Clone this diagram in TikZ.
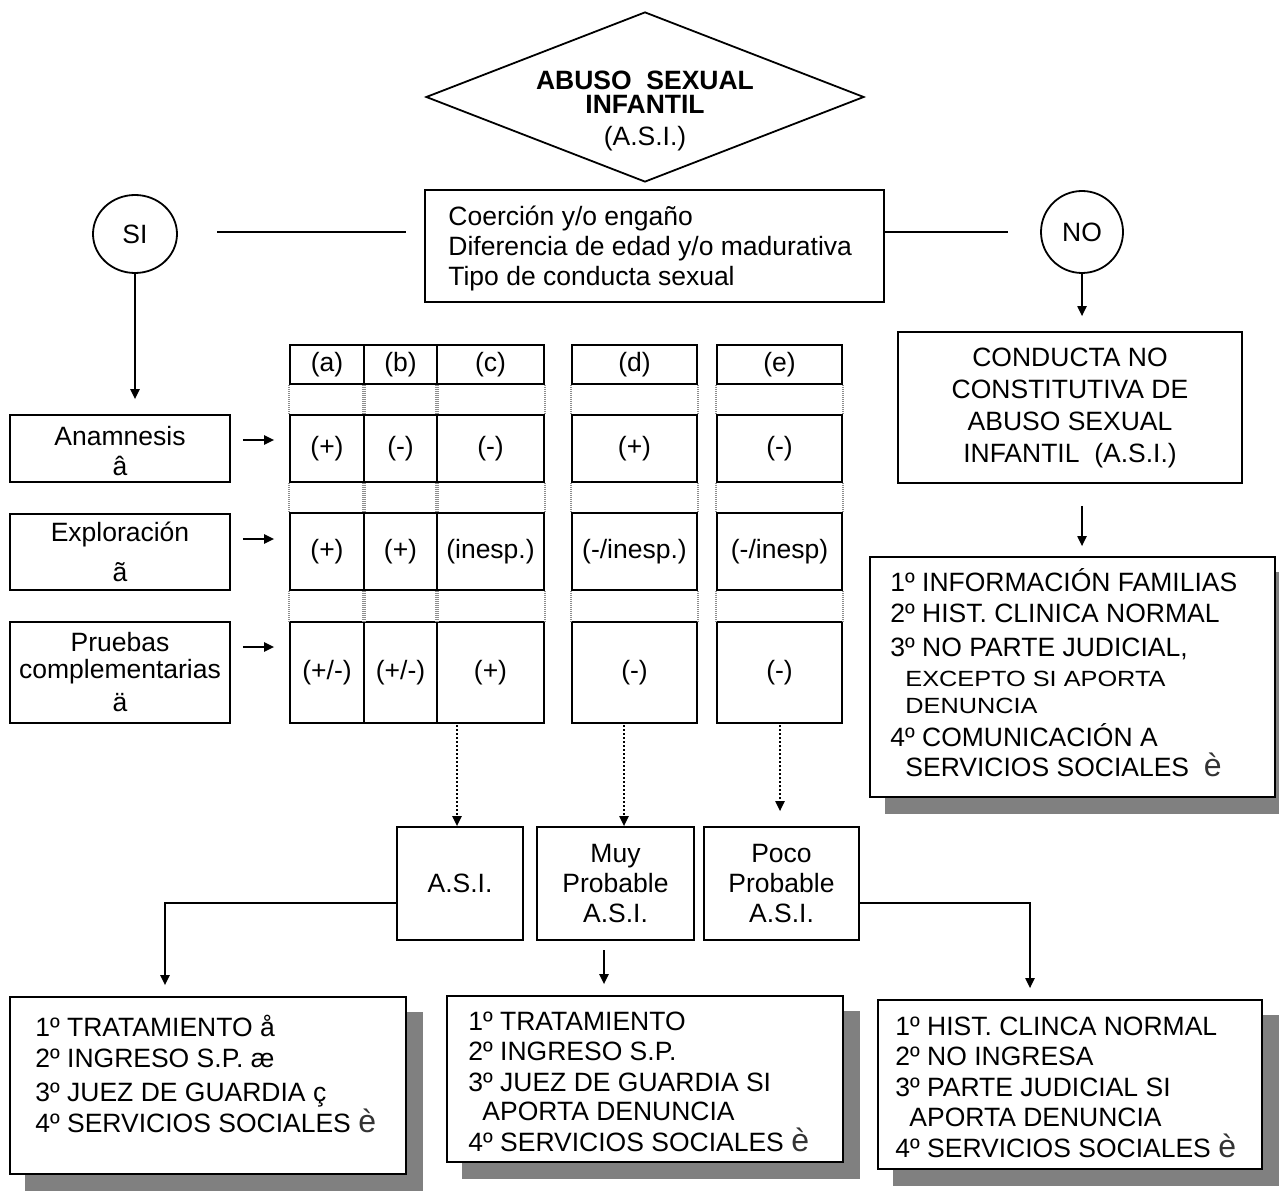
\documentclass[tikz,border=0pt]{standalone}
\usepackage{fontspec}
\setmainfont{Liberation Sans}
\newfontfamily\widefont[FakeStretch=1.15]{Liberation Sans}
\usetikzlibrary{arrows.meta,shapes.geometric,fit,calc}
\pgfdeclarelayer{bg}
\pgfsetlayers{bg,main}
\newcommand\tln[4]{\node[tl] (#1) at (#2,#3) {#4};}
\newcommand\cellbox[5]{\node[box, fit={(#2,#3)(#4,#5)}] (#1) {};}
\newcommand\cellt[6]{\cellbox{#1}{#2}{#3}{#4}{#5}\node[ct] (#1T) at (#1.center) {#6};}
\newcommand\bigsym[1]{{\fontsize{16}{15}\selectfont\color{black!80}#1}}
\begin{document}
\begin{tikzpicture}[x=0.5pt,y=-0.5pt,
  every node/.style={font=\fontsize{13.25}{15}\selectfont},
  box/.style={draw, line width=0.9pt, inner sep=0pt, fill=white},
  tl/.style={anchor=base west, inner sep=0pt},
  ct/.style={align=center, inner sep=0pt},
  arr/.style={line width=0.8pt, -{Triangle[length=5pt,width=4.6pt]}},
  darr/.style={arr, dash pattern=on 1pt off 1pt},
  ln/.style={line width=0.8pt},
  spacer/.style={draw=black!45, line width=0.8pt, dash pattern=on 0.5pt off 0.5pt},
  shade/.style={fill=black!50}]
\begin{pgfonlayer}{bg}
\fill[white] (0,0) rectangle (1279,1192);
\end{pgfonlayer}
\useasboundingbox (0,0) rectangle (1279,1192);

% title diamond
\node[draw, diamond, line width=0.9pt, minimum width=219pt, minimum height=85pt, inner sep=0pt] (dia) at (645,97) {};
\node[anchor=base, inner sep=0pt] (dia1) at (645,90) {\textbf{ABUSO\ \ SEXUAL}};
\node[anchor=base, inner sep=0pt] (dia2) at (645,114) {\textbf{INFANTIL}};
\node[anchor=base, inner sep=0pt] (dia3) at (645,146) {(A.S.I.)};

% criteria box
\cellbox{crit}{425}{190}{884}{302}
\tln{c1}{448}{226}{Coerción y/o engaño}
\tln{c2}{448}{256}{Diferencia de edad y/o madurativa}
\tln{c3}{448}{286}{Tipo de conducta sexual}

% SI / NO
\node[draw, ellipse, line width=0.9pt, minimum width=42pt, minimum height=39pt, inner sep=0pt] (si) at (135,234) {SI};
\node[draw, circle, line width=0.9pt, minimum size=41pt, inner sep=0pt] (no) at (1082,232) {NO};
\coordinate (s1) at (217,232);
\coordinate (s2) at (406,232);
\draw[ln] (s1) -- (s2);
\draw[ln] (crit.east |- no.center) -- ($(no.west)+(-32,0)$);

% NO branch
\cellbox{cnd}{898}{332}{1242}{483}
\node[ct, font=\fontsize{13.25}{16}\selectfont] (cndT) at (cnd.center) {CONDUCTA NO\\CONSTITUTIVA DE\\ABUSO SEXUAL\\INFANTIL\ \ (A.S.I.)};
\draw[arr] (no.south) -- ($(cnd.north -| no.south)+(0,-15)$);

\cellbox{info}{870}{557}{1275}{797}
\begin{pgfonlayer}{bg}
\fill[shade] ([shift={(16,16)}]info.north west) rectangle ([shift={(16,16)}]info.south east);
\end{pgfonlayer}
\draw[arr] ($(cnd.south -| no.south)+(0,22)$) -- ($(info.north -| no.south)+(0,-10)$);
\tln{i1}{890}{591.5}{1º INFORMACIÓN FAMILIAS}
\tln{i2}{890}{622.5}{2º HIST. CLINICA NORMAL}
\tln{i3}{890}{656.5}{3º NO PARTE JUDICIAL,}
\node[tl, font=\widefont\fontsize{11}{12}\selectfont] (i4) at (905,686) {EXCEPTO SI APORTA};
\node[tl, font=\widefont\fontsize{11}{12}\selectfont] (i5) at (905,713) {DENUNCIA};
\tln{i6}{890}{746.5}{4º COMUNICACIÓN A}
\tln{i7}{905}{776.5}{SERVICIOS SOCIALES\ \ \bigsym{è}}

% SI branch: side boxes
\cellbox{anam}{10}{415}{230}{482}
\node[ct] (anamT) at ($(anam.center)+(0,3)$) {Anamnesis\\â};
\cellbox{expl}{10}{514}{230}{590}
\node[ct, font=\fontsize{13.25}{20}\selectfont] (explT) at (expl.center) {Exploración\\ã};
\cellbox{prue}{10}{622}{230}{723}
\node[ct, font=\fontsize{13.25}{13.5}\selectfont] (prueT) at (prue.center) {Pruebas\\complementarias\\[3pt]ä};
\draw[arr] (si.south) -- ($(anam.north -| si.south)+(0,-15)$);

% table
\cellt{ha}{290}{345}{364}{384}{(a)}
\cellt{hb}{364}{345}{437}{384}{(b)}
\cellt{hc}{437}{345}{544}{384}{(c)}
\cellt{hd}{572}{345}{697}{384}{(d)}
\cellt{he}{717}{345}{842}{384}{(e)}
\cellt{r1a}{290}{415}{364}{482}{(+)}
\cellt{r1b}{364}{415}{437}{482}{(-)}
\cellt{r1c}{437}{415}{544}{482}{(-)}
\cellt{r1d}{572}{415}{697}{482}{(+)}
\cellt{r1e}{717}{415}{842}{482}{(-)}
\cellt{r2a}{290}{513}{364}{590}{(+)}
\cellt{r2b}{364}{513}{437}{590}{(+)}
\cellt{r2c}{437}{513}{544}{590}{(inesp.)}
\cellt{r2d}{572}{513}{697}{590}{(-/inesp.)}
\cellt{r2e}{717}{513}{842}{590}{(-/inesp)}
\cellt{r3a}{290}{622}{364}{723}{(+/-)}
\cellt{r3b}{364}{622}{437}{723}{(+/-)}
\cellt{r3c}{437}{622}{544}{723}{(+)}
\cellt{r3d}{572}{622}{697}{723}{(-)}
\cellt{r3e}{717}{622}{842}{723}{(-)}
\foreach \c in {a,b,c,d,e}{
  \draw[spacer] (h\c.south west) -- (r1\c.north west) (h\c.south east) -- (r1\c.north east)
    (r1\c.south west) -- (r2\c.north west) (r1\c.south east) -- (r2\c.north east)
    (r2\c.south west) -- (r3\c.north west) (r2\c.south east) -- (r3\c.north east);
}
\draw[arr] ($(anam.east)+(12,-8.5)$) -- ($(r1a.west |- anam.east)+(-15,-8.5)$);
\draw[arr] ($(expl.east)+(12,-13)$) -- ($(r2a.west |- expl.east)+(-15,-13)$);
\draw[arr] ($(prue.east)+(12,-25.5)$) -- ($(r3a.west |- prue.east)+(-15,-25.5)$);

% results
\cellt{asi}{397}{827}{523}{940}{A.S.I.}
\cellbox{muy}{537}{827}{694}{940}
\node[ct] (muyT) at (muy.center) {Muy\\Probable\\A.S.I.};
\cellbox{poco}{704}{827}{859}{940}
\node[ct] (pocoT) at (poco.center) {Poco\\Probable\\A.S.I.};
\coordinate (d1) at (457,725);
\coordinate (d2) at (624,725);
\coordinate (d3) at (780,725);
\draw[darr] (d1) -- (d1 |- asi.north);
\draw[darr] (d2) -- (d2 |- muy.north);
\draw[darr] (d3) -- ($(d3 |- poco.north)+(0,-15)$);

% bottom boxes
\cellbox{b1}{10}{997}{406}{1174}
\cellbox{b2}{447}{996}{843}{1162}
\cellbox{b3}{878}{1000}{1262}{1169}
\begin{pgfonlayer}{bg}
\foreach \b in {b1,b2,b3}{
  \fill[shade] ([shift={(16,16)}]\b.north west) rectangle ([shift={(16,16)}]\b.south east);
}
\end{pgfonlayer}
\coordinate (j1) at (165,903);
\coordinate (j2) at (604,950);
\coordinate (j3) at (1030,903);
\draw[arr] (asi.west |- j1) -- (j1) -- ($(j1 |- b1.north)+(0,-11)$);
\draw[arr] (j2) -- ($(j2 |- b2.north)+(0,-11)$);
\draw[arr] (poco.east |- j3) -- (j3) -- ($(j3 |- b3.north)+(0,-11)$);

\tln{t11}{35}{1036}{1º TRATAMIENTO å}
\tln{t12}{35}{1067}{2º INGRESO S.P. æ}
\tln{t13}{35}{1101}{3º JUEZ DE GUARDIA ç}
\tln{t14}{35}{1132}{4º SERVICIOS SOCIALES \bigsym{è}}

\tln{t21}{468}{1030}{1º TRATAMIENTO}
\tln{t22}{468}{1060}{2º INGRESO S.P.}
\tln{t23}{468}{1091}{3º JUEZ DE GUARDIA SI}
\tln{t24}{482}{1120}{APORTA DENUNCIA}
\tln{t25}{468}{1151}{4º SERVICIOS SOCIALES \bigsym{è}}

\tln{t31}{895}{1035}{1º HIST. CLINCA NORMAL}
\tln{t32}{895}{1065}{2º NO INGRESA}
\tln{t33}{895}{1096}{3º PARTE JUDICIAL SI}
\tln{t34}{909}{1126}{APORTA DENUNCIA}
\tln{t35}{895}{1157}{4º SERVICIOS SOCIALES \bigsym{è}}
\end{tikzpicture}
\end{document}
